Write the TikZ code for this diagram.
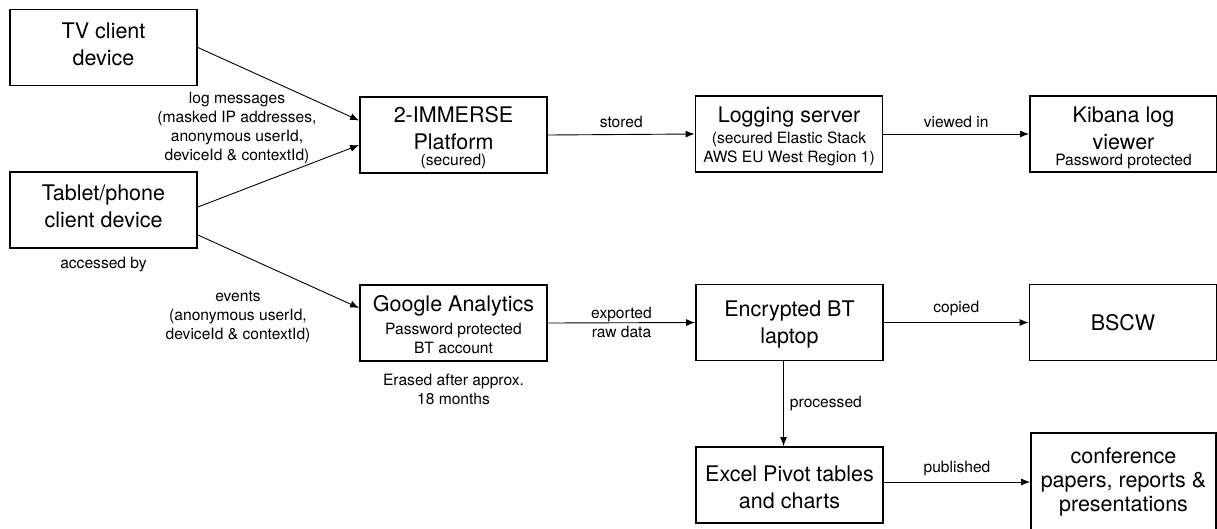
\documentclass[tikz,border=0pt]{standalone}
\usepackage{fontspec}
\setmainfont{TeX Gyre Heros}
\usetikzlibrary{arrows.meta,positioning}

\newcommand{\bigtxt}{\fontsize{21.5}{27}\selectfont}
\newcommand{\smalltxt}{\fontsize{15.6}{19}\selectfont}
% struts to nudge the text inside a box
\newcommand{\padtop}[1]{\rule{0pt}{#1}}
\newcommand{\padbot}[1]{\rule[-#1]{0pt}{0pt}}

\tikzset{
  box/.style={draw, line width=1.8pt, align=center, inner sep=0pt,
    minimum width=187pt, minimum height=76pt, font=\bigtxt},
  flow/.style={line width=0.9pt, -{Latex[length=9pt,width=7pt]}},
  lbl/.style={align=center, font=\smalltxt, inner sep=0pt}
}

\begin{document}
\begin{tikzpicture}[x=1pt,y=-1pt]
  \useasboundingbox (0,0) rectangle (1217,528);

  % boxes
  \node[box] (tv) at (103.5,47.5) {TV client\\device\padbot{6.8pt}};
  \node[box] (tablet) at (103.5,210) {Tablet/phone\\client device\padbot{8.6pt}};
  \node[box] (platform) at (453.5,135) {\padtop{21.5pt}2-IMMERSE\\Platform\\[-11pt]{\smalltxt (secured)}};
  \node[box] (logserver) at (789,134) {\padtop{20pt}Logging server\\[-6pt]{\smalltxt (secured Elastic Stack}\\[-8pt]{\smalltxt AWS EU West Region 1)}};
  \node[box] (kibana) at (1123.5,134) {\padtop{23pt}Kibana log\\viewer\\[-11pt]{\smalltxt Password protected}};
  \node[box] (analytics) at (453.5,323) {\padtop{19.5pt}Google Analytics\\[-4pt]{\smalltxt Password protected}\\[-8pt]{\smalltxt BT account}};
  \node[box] (laptop) at (789.5,322.5) {\padtop{20.5pt}Encrypted BT\\laptop};
  \node[box] (bscw) at (1123,322.5) {BSCW};
  \node[box] (excel) at (789.5,485) {\padtop{21pt}Excel Pivot tables\\and charts};
  \node[box, minimum height=98pt, minimum width=185pt] (conf) at (1123.5,482) {conference\\[-3pt]papers, reports \&\\[-3pt]presentations};

  % free labels
  \node[lbl] (loglbl) at (237,128) {log messages\\(masked IP addresses,\\anonymous userId,\\deviceId \& contextId)};
  \node[lbl] (eventslbl) at (238,317) {events\\(anonymous userId,\\deviceId \& contextId)};
  \node[lbl, below=8pt of tablet] (accessed) {accessed by};
  \node[lbl, below=12pt of analytics] (erased) {Erased after approx.\\18 months};

  % connectors
  \draw[flow] (tv.east) -- ([yshift=14.5pt]platform.west);
  \draw[flow] ([yshift=3pt]tablet.east) -- ([yshift=-10pt]platform.west);
  \draw[flow] ([yshift=-25pt]tablet.east) -- ([yshift=15pt]analytics.west);
  \draw[flow] (platform.east) -- node[lbl, above=6pt] {stored} (logserver.west);
  \draw[flow] (logserver.east) -- node[lbl, above=6pt] {viewed in} (kibana.west);
  \draw[flow] (analytics.east) -- node[lbl] {exported\\raw data} (laptop.west);
  \draw[flow] (laptop.east) -- node[lbl, above=6pt] {copied} (bscw.west);
  \draw[flow] ([xshift=-6pt]laptop.south) -- node[lbl, right=6pt] {processed} ([xshift=-6pt]laptop.south |- excel.north);
  \draw[flow] ([yshift=3pt]excel.east) -- node[lbl, above=6pt] {published} ([yshift=3pt]excel.east -| conf.west);
\end{tikzpicture}
\end{document}
